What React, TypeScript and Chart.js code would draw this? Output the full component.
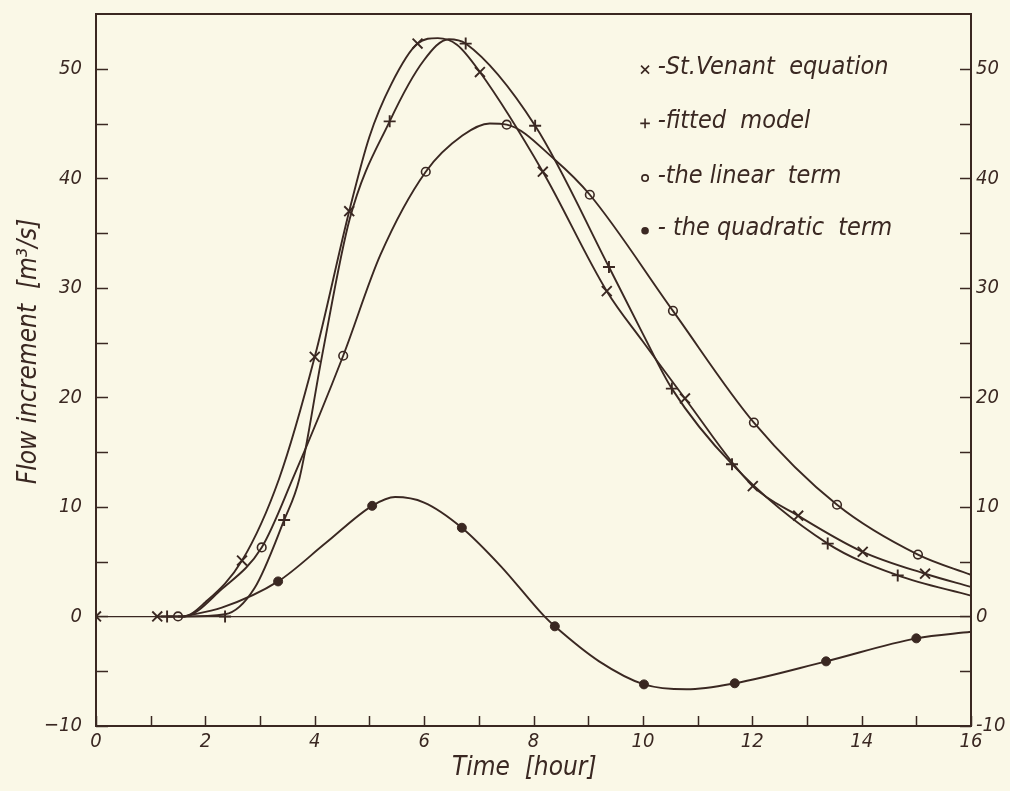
import React, { useEffect, useRef } from 'react';
import { Chart, registerables } from 'chart.js';

Chart.register(...registerables);

const INK = '#3a2822';
const PAPER = '#faf8e7';
const FONT = '"Liberation Sans Narrow", "DejaVu Sans Condensed", "DejaVu Sans", sans-serif';

// Axis ticks
const xTickValues = [0, 1, 2, 3, 4, 5, 6, 7, 8, 9, 10, 11, 12, 13, 14, 15, 16];
const xTickLabels = ['0', '2', '4', '6', '8', '10', '12', '14', '16'];
const yTickValues = [-10, -5, 0, 5, 10, 15, 20, 25, 30, 35, 40, 45, 50];
const yTickLabels = ['−10', '0', '10', '20', '30', '40', '50'];

// St. Venant equation (x) – traced curve
const venantCurveX = [1.12, 1.6, 2.0, 2.67, 3.35, 4.0, 4.63, 5.0, 5.4, 5.88, 6.25, 6.6, 7.02, 8.17, 9.34, 10.0, 10.77, 12.01, 12.84, 14.02, 15.16, 16];
const venantCurveY = [0, 0, 1.3, 5.1, 12.6, 23.7, 37.0, 43.8, 48.6, 52.3, 52.8, 52.2, 49.7, 40.6, 29.7, 25.1, 19.9, 11.9, 9.2, 5.9, 3.9, 2.7];
// St. Venant markers
const venantMarkX = [0, 1.12, 2.67, 4.0, 4.63, 5.88, 7.02, 8.17, 9.34, 10.77, 12.01, 12.84, 14.02, 15.16];
const venantMarkY = [0, 0, 5.1, 23.7, 37.0, 52.3, 49.7, 40.6, 29.7, 19.9, 11.9, 9.2, 5.9, 3.9];

// fitted model (+)
const fittedCurveX = [1.3, 1.6, 2.36, 2.9, 3.44, 3.72, 4.13, 4.64, 5.37, 6.0, 6.45, 6.76, 8.03, 9.38, 10.0, 10.53, 11.63, 13.38, 14.66, 16];
const fittedCurveY = [0, 0, 0.2, 2.6, 8.8, 12.6, 23.7, 36.3, 45.2, 50.8, 52.7, 52.3, 44.8, 31.9, 25.8, 20.8, 13.9, 6.65, 3.75, 1.9];
const fittedMarkX = [1.3, 2.36, 3.44, 5.37, 6.76, 8.03, 9.38, 10.53, 11.63, 13.38, 14.66];
const fittedMarkY = [0, 0, 8.8, 45.2, 52.3, 44.8, 31.9, 20.8, 13.9, 6.65, 3.75];

// the linear term (o)
const linearCurveX = [1.5, 1.6, 2.3, 3.03, 3.6, 4.52, 5.2, 6.03, 6.7, 7.2, 7.51, 8.39, 9.03, 10.55, 12.03, 13.55, 15.03, 16];
const linearCurveY = [0, 0, 2.5, 6.3, 12.6, 23.8, 33.0, 40.6, 43.9, 45.0, 44.9, 41.7, 38.5, 27.9, 17.7, 10.2, 5.65, 3.8];
const linearMarkX = [1.5, 3.03, 4.52, 6.03, 7.51, 9.03, 10.55, 12.03, 13.55, 15.03];
const linearMarkY = [0, 6.3, 23.8, 40.6, 44.9, 38.5, 27.9, 17.7, 10.2, 5.65];

// the quadratic term (•)
const quadCurveX = [1.6, 2.3, 3.33, 4.2, 5.05, 5.47, 6.0, 6.69, 7.4, 8.2, 8.39, 9.2, 10.02, 10.8, 11.68, 13.35, 15.0, 16];
const quadCurveY = [0, 0.8, 3.2, 6.7, 10.1, 10.9, 10.4, 8.1, 4.6, 0, -0.9, -4.1, -6.2, -6.65, -6.1, -4.1, -2.0, -1.4];
const quadMarkX = [3.33, 5.05, 6.69, 8.39, 10.02, 11.68, 13.35, 15.0];
const quadMarkY = [3.2, 10.1, 8.1, -0.9, -6.2, -6.1, -4.1, -2.0];

const legendLabels = ['-St.Venant  equation', '-fitted  model', '-the linear  term', '- the quadratic  term'];
const legendSymbols = ['crossRot', 'cross', 'ring', 'dot'];
const xTitle = 'Time  [hour]';
const yTitle = 'Flow increment  [m³/s]';

const zip = (xs: number[], ys: number[]) => xs.map((x, i) => ({ x, y: ys[i] }));

function drawSymbol(ctx: CanvasRenderingContext2D, kind: string, x: number, y: number, s: number) {
  ctx.save();
  ctx.strokeStyle = INK;
  ctx.fillStyle = INK;
  ctx.lineWidth = 1.6;
  ctx.beginPath();
  if (kind === 'crossRot') {
    ctx.moveTo(x - s, y - s); ctx.lineTo(x + s, y + s);
    ctx.moveTo(x - s, y + s); ctx.lineTo(x + s, y - s);
    ctx.stroke();
  } else if (kind === 'cross') {
    ctx.moveTo(x - s * 1.2, y); ctx.lineTo(x + s * 1.2, y);
    ctx.moveTo(x, y - s * 1.2); ctx.lineTo(x, y + s * 1.2);
    ctx.stroke();
  } else if (kind === 'ring') {
    ctx.arc(x, y, s * 0.8, 0, Math.PI * 2);
    ctx.fillStyle = PAPER;
    ctx.fill();
    ctx.stroke();
  } else {
    ctx.arc(x, y, s * 0.95, 0, Math.PI * 2);
    ctx.fill();
  }
  ctx.restore();
}

const framePlugin = {
  id: 'frame',
  beforeDraw(chart: any) {
    const { ctx } = chart;
    ctx.save();
    ctx.fillStyle = PAPER;
    ctx.fillRect(0, 0, chart.width, chart.height);
    ctx.restore();
  },
  afterDraw(chart: any) {
    const { ctx, chartArea: a, scales } = chart;
    const xs = scales.x, ys = scales.y;
    ctx.save();
    ctx.strokeStyle = INK;
    ctx.lineWidth = 2;
    ctx.strokeRect(a.left, a.top, a.right - a.left, a.bottom - a.top);
    ctx.lineWidth = 1.5;
    ctx.beginPath();
    xTickValues.forEach((v) => {
      const px = Math.round(xs.getPixelForValue(v)) + 0.5;
      ctx.moveTo(px, a.bottom);
      ctx.lineTo(px, a.bottom - 10);
    });
    yTickValues.forEach((v) => {
      const py = Math.round(ys.getPixelForValue(v)) + 0.5;
      ctx.moveTo(a.left, py);
      ctx.lineTo(a.left + 12, py);
      ctx.moveTo(a.right, py);
      ctx.lineTo(a.right - 11, py);
    });
    ctx.stroke();

    // legend
    const symX = xs.getPixelForValue(10.04);
    const textX = xs.getPixelForValue(10.27);
    const rows = [50.1, 45.2, 40.2, 35.4];
    ctx.font = `italic 25px ${FONT}`;
    ctx.fillStyle = INK;
    ctx.textBaseline = 'middle';
    ctx.textAlign = 'left';
    legendLabels.forEach((lab, i) => {
      const py = ys.getPixelForValue(rows[i]);
      drawSymbol(ctx, legendSymbols[i], symX, py + 2, 4);
      ctx.fillText(lab, textX, py);
    });

    // axis titles
    ctx.font = `italic 26px ${FONT}`;
    ctx.textAlign = 'center';
    ctx.textBaseline = 'middle';
    ctx.fillText(xTitle, xs.getPixelForValue(7.83), 768);
    ctx.save();
    ctx.translate(29, ys.getPixelForValue(24.2));
    ctx.rotate(-Math.PI / 2);
    ctx.fillText(yTitle, 0, 0);
    ctx.restore();
    ctx.restore();
  },
};

export default function App() {
  const ref = useRef<HTMLCanvasElement | null>(null);

  useEffect(() => {
    document.body.style.margin = '0';
    document.body.style.background = PAPER;
    const canvas = ref.current;
    if (!canvas) return;

    const lineDs = (data: any[]) => ({
      data,
      showLine: true,
      borderColor: INK,
      borderWidth: 1.9,
      pointRadius: 0,
      cubicInterpolationMode: 'monotone' as const,
      fill: false,
    });

    const tickFont = { family: FONT, size: 20, style: 'italic' as const };
    const fitV = (w: number) => (s: any) => {
      s.width = w;
      s.paddingTop = 0;
      s.paddingBottom = 0;
    };

    const chart = new Chart(canvas, {
      type: 'scatter',
      data: {
        datasets: [
          lineDs(zip(venantCurveX, venantCurveY)),
          lineDs(zip(fittedCurveX, fittedCurveY)),
          lineDs(zip(linearCurveX, linearCurveY)),
          lineDs(zip(quadCurveX, quadCurveY)),
          {
            data: zip(venantMarkX, venantMarkY),
            showLine: false,
            pointStyle: 'crossRot',
            pointRadius: 7,
            borderColor: INK,
            borderWidth: 1.9,
            clip: { left: 0, top: false, right: false, bottom: false } as any,
          },
          {
            data: zip(fittedMarkX, fittedMarkY),
            showLine: false,
            pointStyle: 'cross',
            pointRadius: 6,
            borderColor: INK,
            borderWidth: 1.9,
          },
          {
            data: zip(linearMarkX, linearMarkY),
            showLine: false,
            pointStyle: 'circle',
            pointRadius: 4.3,
            borderColor: INK,
            backgroundColor: PAPER,
            borderWidth: 1.6,
          },
          {
            data: zip(quadMarkX, quadMarkY),
            showLine: false,
            pointStyle: 'circle',
            pointRadius: 4.5,
            borderColor: INK,
            backgroundColor: INK,
            borderWidth: 1,
          },
        ],
      },
      options: {
        animation: false,
        responsive: false,
        devicePixelRatio: 1,
        layout: { padding: { top: 14, left: 0, right: 0, bottom: 0 } },
        plugins: { legend: { display: false }, tooltip: { enabled: false } },
        scales: {
          x: {
            type: 'linear',
            position: 'bottom',
            min: 0,
            max: 16,
            afterFit: (s: any) => { s.height = 65; s.paddingLeft = 0; s.paddingRight = 0; },
            afterBuildTicks: (s: any) => { s.ticks = xTickLabels.map((t) => ({ value: Number(t) })); },
            ticks: {
              autoSkip: false,
              maxRotation: 0,
              padding: 4,
              color: INK,
              font: tickFont,
              callback: (v: any) => String(v),
            },
            grid: { display: false, drawTicks: false },
            border: { display: true, color: INK, width: 2 },
          },
          y: {
            type: 'linear',
            position: 'left',
            min: -10,
            max: 55,
            afterFit: fitV(96),
            afterBuildTicks: (s: any) => { s.ticks = yTickLabels.map((t) => ({ value: Number(t.replace('−', '-')) })); },
            ticks: {
              padding: 14,
              color: INK,
              font: tickFont,
              callback: (v: any) => String(v).replace('-', '−'),
            },
            grid: {
              drawTicks: false,
              lineWidth: 1.2,
              color: (c: any) => (c.tick && c.tick.value === 0 ? INK : 'rgba(0,0,0,0)'),
            },
            border: { display: true, color: INK, width: 2 },
          },
          y2: {
            type: 'linear',
            position: 'right',
            min: -10,
            max: 55,
            afterFit: fitV(39),
            afterBuildTicks: (s: any) => { s.ticks = yTickLabels.map((t) => ({ value: Number(t.replace('−', '-')) })); },
            ticks: {
              padding: 5,
              color: INK,
              font: tickFont,
              callback: (v: any) => String(v),
            },
            grid: { display: false, drawTicks: false },
            border: { display: true, color: INK, width: 2 },
          },
        },
      },
      plugins: [framePlugin],
    });

    return () => chart.destroy();
  }, []);

  return (
    <div style={{ width: 1010, height: 791, background: PAPER }}>
      <canvas ref={ref} width={1010} height={791} style={{ display: 'block', width: 1010, height: 791 }} />
    </div>
  );
}
